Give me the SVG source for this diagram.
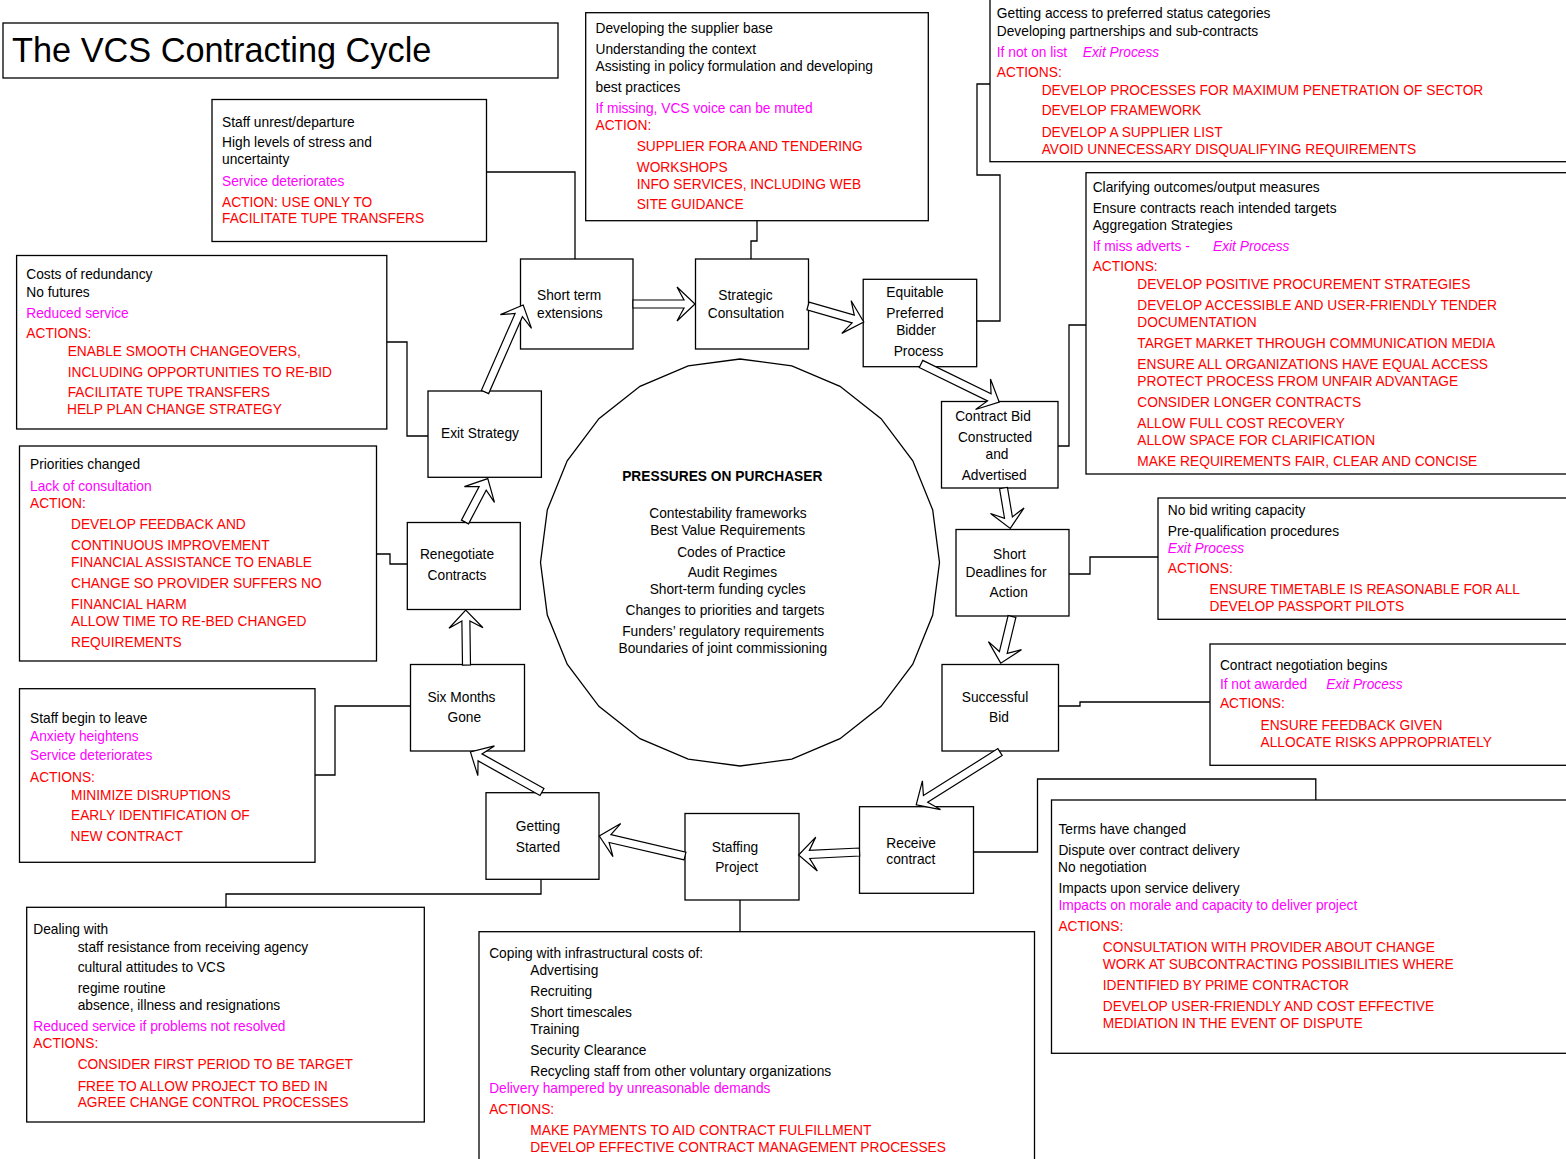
<svg xmlns="http://www.w3.org/2000/svg" width="1566" height="1159" viewBox="0 0 1566 1159">
  <style>
    .box { fill: #fff; stroke: #000; stroke-width: 1.3; }
    .wire { fill: none; stroke: #000; stroke-width: 1.3; }
    .arrow { fill: #fff; stroke: #000; stroke-width: 1.2; stroke-linejoin: miter; }
    text { font-family: "Liberation Sans", Arial, sans-serif; font-size: 13.75px; fill: #000; }
    .c { text-anchor: middle; }
    .m { fill: #ff00ff; }
    .r { fill: #ff0000; }
    .i { font-style: italic; }
    .b { font-weight: bold; }
    .title { font-size: 34.3px; }
  </style>

  <rect width="1566" height="1159" fill="#fff"/>

  <!-- Connectors from the side notes to the cycle stages -->
  <g id="connectors">
    <path class="wire" d="M757,220.7 V241 H751 V259"/>
    <path class="wire" d="M486.5,172 H575 V259"/>
    <path class="wire" d="M976.8,321 H1000 V175 H977 V84 H990"/>
    <path class="wire" d="M386.8,342 H407 V436 H428"/>
    <path class="wire" d="M376.7,554 H390 V564 H407.3"/>
    <path class="wire" d="M315,775 H335 V706 H410.5"/>
    <path class="wire" d="M541,879.3 V894 H226 V907.3"/>
    <path class="wire" d="M740,900 V931.7"/>
    <path class="wire" d="M973.5,852 H1037.5 V779 H1315.8 V800"/>
    <path class="wire" d="M1058.5,706 H1080 V702 H1210"/>
    <path class="wire" d="M1069,574 H1090 V557 H1158"/>
    <path class="wire" d="M1058,446 H1069 V325 H1086"/>
  </g>

  <!-- Title -->
  <g id="title">
    <rect class="box" x="3" y="23" width="555" height="55"/>
    <text class="title" x="12" y="62">The VCS Contracting Cycle</text>
  </g>

  <!-- Central pressures -->
  <g id="pressures">
    <polygon class="box" points="939.5,562.5 932.7,615.1 912.8,664.2 881.1,706.3 840,738.7 791.8,759.1 740,766 688.2,759.1 640,738.7 598.9,706.3 567.2,664.2 547.3,615.1 540.5,562.5 547.3,509.9 567.2,460.8 598.9,418.7 640,386.3 688.2,365.9 740,359 791.8,365.9 840,386.3 881.1,418.7 912.8,460.8 932.7,509.9"/>
    <text class="c b" x="722.3" y="480.7">PRESSURES ON PURCHASER</text>
    <text class="c" x="728" y="518.3">Contestability frameworks</text>
    <text class="c" x="727.6" y="535.3">Best Value Requirements</text>
    <text class="c" x="731.4" y="556.7">Codes of Practice</text>
    <text class="c" x="732.4" y="577.3">Audit Regimes</text>
    <text class="c" x="727.6" y="594.3">Short-term funding cycles</text>
    <text class="c" x="724.9" y="615.3">Changes to priorities and targets</text>
    <text class="c" x="723.2" y="636">Funders’ regulatory requirements</text>
    <text class="c" x="722.8" y="653.3">Boundaries of joint commissioning</text>
  </g>

  <!-- Cycle stages -->
  <g id="short-term">
    <rect class="box" x="520.5" y="259" width="112.5" height="90"/>
    <text x="537" y="300">Short term</text>
    <text x="537" y="317.7">extensions</text>
  </g>
  <g id="strategic">
    <rect class="box" x="695.5" y="259" width="113" height="90"/>
    <text class="c" x="745.5" y="300">Strategic</text>
    <text class="c" x="746" y="317.7">Consultation</text>
  </g>
  <g id="equitable">
    <rect class="box" x="863.2" y="279.3" width="113.5" height="87.4"/>
    <text class="c" x="915" y="296.7">Equitable</text>
    <text class="c" x="915" y="318.3">Preferred</text>
    <text class="c" x="916" y="335">Bidder</text>
    <text class="c" x="918.5" y="356">Process</text>
  </g>
  <g id="contract-bid">
    <rect class="box" x="941.5" y="401.5" width="116.5" height="86.5"/>
    <text class="c" x="993" y="420.7">Contract Bid</text>
    <text class="c" x="995" y="441.7">Constructed</text>
    <text class="c" x="997" y="459.3">and</text>
    <text class="c" x="994.2" y="480">Advertised</text>
  </g>
  <g id="short-deadlines">
    <rect class="box" x="956" y="529.5" width="113" height="86.5"/>
    <text class="c" x="1009.5" y="559">Short</text>
    <text class="c" x="1006" y="576.7">Deadlines for</text>
    <text class="c" x="1008.7" y="597.3">Action</text>
  </g>
  <g id="successful-bid">
    <rect class="box" x="942" y="664.5" width="116.5" height="86.5"/>
    <text class="c" x="995" y="701.7">Successful</text>
    <text class="c" x="999" y="722.3">Bid</text>
  </g>
  <g id="receive-contract">
    <rect class="box" x="859.5" y="806.7" width="114" height="86.6"/>
    <text class="c" x="911.2" y="847.7">Receive</text>
    <text class="c" x="910.8" y="864.3">contract</text>
  </g>
  <g id="staffing">
    <rect class="box" x="685" y="813.5" width="114" height="86.5"/>
    <text class="c" x="735" y="852.3">Staffing</text>
    <text class="c" x="736.6" y="871.7">Project</text>
  </g>
  <g id="getting-started">
    <rect class="box" x="486" y="792.7" width="113" height="86.6"/>
    <text class="c" x="538" y="830.7">Getting</text>
    <text class="c" x="538" y="851.7">Started</text>
  </g>
  <g id="six-months">
    <rect class="box" x="410.5" y="664.5" width="114" height="86.5"/>
    <text class="c" x="461.4" y="701.7">Six Months</text>
    <text class="c" x="464.3" y="722.3">Gone</text>
  </g>
  <g id="renegotiate">
    <rect class="box" x="407.3" y="522.5" width="113" height="87"/>
    <text class="c" x="457" y="559.3">Renegotiate</text>
    <text class="c" x="457" y="580">Contracts</text>
  </g>
  <g id="exit-strategy">
    <rect class="box" x="428" y="391" width="113.4" height="86.3"/>
    <text x="441" y="438.3">Exit Strategy</text>
  </g>

  <!-- Side notes -->
  <g id="supplier-base">
    <rect class="box" x="585.7" y="12.7" width="342.6" height="208"/>
    <text x="595.5" y="33.3">Developing the supplier base</text>
    <text x="595.5" y="54">Understanding the context</text>
    <text x="595.5" y="71">Assisting in policy formulation and developing</text>
    <text x="595.5" y="91.7">best practices</text>
    <text class="m" x="595.5" y="112.7">If missing, VCS voice can be muted</text>
    <text class="r" x="595.5" y="130">ACTION:</text>
    <text class="r" x="636.7" y="151">SUPPLIER FORA AND TENDERING</text>
    <text class="r" x="636.7" y="171.7">WORKSHOPS</text>
    <text class="r" x="636.7" y="188.7">INFO SERVICES, INCLUDING WEB</text>
    <text class="r" x="636.7" y="209.3">SITE GUIDANCE</text>
  </g>

  <g id="preferred-status">
    <rect class="box" x="990" y="-2" width="580" height="163.7"/>
    <text x="996.8" y="18.3">Getting access to preferred status categories</text>
    <text x="996.8" y="36">Developing partnerships and sub-contracts</text>
    <text class="m" x="996.8" y="57.3">If not on list</text>
    <text class="m i" x="1082.8" y="57.3">Exit Process</text>
    <text class="r" x="996.8" y="76.7">ACTIONS:</text>
    <text class="r" x="1041.7" y="95">DEVELOP PROCESSES FOR MAXIMUM PENETRATION OF SECTOR</text>
    <text class="r" x="1041.7" y="115">DEVELOP FRAMEWORK</text>
    <text class="r" x="1041.7" y="136.7">DEVELOP A SUPPLIER LIST</text>
    <text class="r" x="1041.7" y="154">AVOID UNNECESSARY DISQUALIFYING REQUIREMENTS</text>
  </g>

  <g id="staff-unrest">
    <rect class="box" x="212" y="99.5" width="274.5" height="142"/>
    <text x="222" y="126.7">Staff unrest/departure</text>
    <text x="222" y="147.3">High levels of stress and</text>
    <text x="222" y="164">uncertainty</text>
    <text class="m" x="222" y="185.7">Service deteriorates</text>
    <text class="r" x="222" y="206.7">ACTION: USE ONLY TO</text>
    <text class="r" x="222" y="223.3">FACILITATE TUPE TRANSFERS</text>
  </g>

  <g id="redundancy">
    <rect class="box" x="16.6" y="255.5" width="370.2" height="173.5"/>
    <text x="26.3" y="278.7">Costs of redundancy</text>
    <text x="26.3" y="296.7">No futures</text>
    <text class="m" x="26.3" y="317.7">Reduced service</text>
    <text class="r" x="26.3" y="337.7">ACTIONS:</text>
    <text class="r" x="67.7" y="355.7">ENABLE SMOOTH CHANGEOVERS,</text>
    <text class="r" x="67.7" y="376.7">INCLUDING OPPORTUNITIES TO RE-BID</text>
    <text class="r" x="67.7" y="396.7">FACILITATE TUPE TRANSFERS</text>
    <text class="r" x="67" y="414.3">HELP PLAN CHANGE STRATEGY</text>
  </g>

  <g id="outcomes">
    <rect class="box" x="1086" y="172.7" width="484" height="301.3"/>
    <text x="1092.7" y="192.3">Clarifying outcomes/output measures</text>
    <text x="1092.7" y="213.3">Ensure contracts reach intended targets</text>
    <text x="1092.7" y="230.3">Aggregation Strategies</text>
    <text class="m" x="1092.7" y="251.3">If miss adverts -</text>
    <text class="m i" x="1213" y="251.3">Exit Process</text>
    <text class="r" x="1092.7" y="271.3">ACTIONS:</text>
    <text class="r" x="1137.3" y="289.3">DEVELOP POSITIVE PROCUREMENT STRATEGIES</text>
    <text class="r" x="1137.3" y="310.3">DEVELOP ACCESSIBLE AND USER-FRIENDLY TENDER</text>
    <text class="r" x="1137.3" y="327.3">DOCUMENTATION</text>
    <text class="r" x="1137.3" y="348.3">TARGET MARKET THROUGH COMMUNICATION MEDIA</text>
    <text class="r" x="1137.3" y="369.3">ENSURE ALL ORGANIZATIONS HAVE EQUAL ACCESS</text>
    <text class="r" x="1137.3" y="386.3">PROTECT PROCESS FROM UNFAIR ADVANTAGE</text>
    <text class="r" x="1137.3" y="407.3">CONSIDER LONGER CONTRACTS</text>
    <text class="r" x="1137.3" y="428.3">ALLOW FULL COST RECOVERY</text>
    <text class="r" x="1137.3" y="445.3">ALLOW SPACE FOR CLARIFICATION</text>
    <text class="r" x="1137.3" y="466.3">MAKE REQUIREMENTS FAIR, CLEAR AND CONCISE</text>
  </g>

  <g id="priorities">
    <rect class="box" x="19.5" y="446" width="357" height="215"/>
    <text x="30" y="469.3">Priorities changed</text>
    <text class="m" x="30" y="490.7">Lack of consultation</text>
    <text class="r" x="30" y="507.7">ACTION:</text>
    <text class="r" x="71" y="529">DEVELOP FEEDBACK AND</text>
    <text class="r" x="71" y="550">CONTINUOUS IMPROVEMENT</text>
    <text class="r" x="71" y="566.7">FINANCIAL ASSISTANCE TO ENABLE</text>
    <text class="r" x="71" y="587.7">CHANGE SO PROVIDER SUFFERS NO</text>
    <text class="r" x="71" y="609">FINANCIAL HARM</text>
    <text class="r" x="71" y="626">ALLOW TIME TO RE-BED CHANGED</text>
    <text class="r" x="71" y="646.7">REQUIREMENTS</text>
  </g>

  <g id="bid-capacity">
    <rect class="box" x="1158" y="498" width="412" height="121.3"/>
    <text x="1167.8" y="515">No bid writing capacity</text>
    <text x="1167.8" y="535.7">Pre-qualification procedures</text>
    <text class="m i" x="1167.8" y="552.7">Exit Process</text>
    <text class="r" x="1167.8" y="573.3">ACTIONS:</text>
    <text class="r" x="1209.5" y="594.3">ENSURE TIMETABLE IS REASONABLE FOR ALL</text>
    <text class="r" x="1209.5" y="611.3">DEVELOP PASSPORT PILOTS</text>
  </g>

  <g id="negotiation">
    <rect class="box" x="1210" y="644" width="360" height="121.3"/>
    <text x="1219.9" y="670.3">Contract negotiation begins</text>
    <text class="m" x="1219.9" y="688.7">If not awarded</text>
    <text class="m i" x="1326.2" y="688.7">Exit Process</text>
    <text class="r" x="1219.9" y="708.3">ACTIONS:</text>
    <text class="r" x="1260.5" y="729.7">ENSURE FEEDBACK GIVEN</text>
    <text class="r" x="1260.5" y="747.3">ALLOCATE RISKS APPROPRIATELY</text>
  </g>

  <g id="staff-leave">
    <rect class="box" x="19.5" y="688.7" width="295.5" height="173.6"/>
    <text x="30" y="722.7">Staff begin to leave</text>
    <text class="m" x="30" y="741">Anxiety heightens</text>
    <text class="m" x="30" y="760.3">Service deteriorates</text>
    <text class="r" x="30" y="781.7">ACTIONS:</text>
    <text class="r" x="71" y="800">MINIMIZE DISRUPTIONS</text>
    <text class="r" x="71" y="820">EARLY IDENTIFICATION OF</text>
    <text class="r" x="70.5" y="841">NEW CONTRACT</text>
  </g>

  <g id="terms-changed">
    <rect class="box" x="1051.5" y="800" width="520" height="253.3"/>
    <text x="1058.4" y="834">Terms have changed</text>
    <text x="1058.4" y="855">Dispute over contract delivery</text>
    <text x="1058" y="871.7">No negotiation</text>
    <text x="1058.4" y="892.7">Impacts upon service delivery</text>
    <text class="m" x="1058.4" y="910">Impacts on morale and capacity to deliver project</text>
    <text class="r" x="1058.4" y="930.7">ACTIONS:</text>
    <text class="r" x="1102.8" y="951.7">CONSULTATION WITH PROVIDER ABOUT CHANGE</text>
    <text class="r" x="1102.8" y="968.7">WORK AT SUBCONTRACTING POSSIBILITIES WHERE</text>
    <text class="r" x="1102.8" y="989.7">IDENTIFIED BY PRIME CONTRACTOR</text>
    <text class="r" x="1102.8" y="1010.7">DEVELOP USER-FRIENDLY AND COST EFFECTIVE</text>
    <text class="r" x="1102.8" y="1027.7">MEDIATION IN THE EVENT OF DISPUTE</text>
  </g>

  <g id="dealing-with">
    <rect class="box" x="26.7" y="907.3" width="397.6" height="214.7"/>
    <text x="33.3" y="934.3">Dealing with</text>
    <text x="77.7" y="951.7">staff resistance from receiving agency</text>
    <text x="77.7" y="972.3">cultural attitudes to VCS</text>
    <text x="77.7" y="993.3">regime routine</text>
    <text x="77.7" y="1010">absence, illness and resignations</text>
    <text class="m" x="33.3" y="1031">Reduced service if problems not resolved</text>
    <text class="r" x="33.3" y="1048.3">ACTIONS:</text>
    <text class="r" x="77.7" y="1069.3">CONSIDER FIRST PERIOD TO BE TARGET</text>
    <text class="r" x="77.7" y="1090.7">FREE TO ALLOW PROJECT TO BED IN</text>
    <text class="r" x="77.7" y="1107.3">AGREE CHANGE CONTROL PROCESSES</text>
  </g>

  <g id="infrastructure-costs">
    <rect class="box" x="479" y="931.7" width="555.5" height="235"/>
    <text x="489.2" y="958.3">Coping with infrastructural costs of:</text>
    <text x="530.3" y="975.3">Advertising</text>
    <text x="530.3" y="996.3">Recruiting</text>
    <text x="530.3" y="1017.3">Short timescales</text>
    <text x="530.3" y="1034">Training</text>
    <text x="530.3" y="1055.3">Security Clearance</text>
    <text x="530.3" y="1076">Recycling staff from other voluntary organizations</text>
    <text class="m" x="489.2" y="1093.3">Delivery hampered by unreasonable demands</text>
    <text class="r" x="489.2" y="1113.7">ACTIONS:</text>
    <text class="r" x="530.3" y="1134.7">MAKE PAYMENTS TO AID CONTRACT FULFILLMENT</text>
    <text class="r" x="530.3" y="1151.7">DEVELOP EFFECTIVE CONTRACT MANAGEMENT PROCESSES</text>
  </g>

  <!-- Hollow block arrows around the cycle -->
  <g id="cycle-arrows">
    <path class="arrow" transform="translate(485,392) rotate(-66.3)" d="M0,-4 H84 L77,-17 L95,0 L77,17 L84,4 H0 Z"/>
    <path class="arrow" transform="translate(633,304)" d="M0,-4 H51 L44,-17 L62,0 L44,17 L51,4 H0 Z"/>
    <path class="arrow" transform="translate(808,306) rotate(16)" d="M0,-4 H47 L40,-17 L58,0 L40,17 L47,4 H0 Z"/>
    <path class="arrow" transform="translate(921,364) rotate(26)" d="M0,-4 H76 L69,-17 L87,0 L69,17 L76,4 H0 Z"/>
    <path class="arrow" transform="translate(1003.5,488) rotate(80.5)" d="M0,-4 H30 L23,-17 L41,0 L23,17 L30,4 H0 Z"/>
    <path class="arrow" transform="translate(1012,616.5) rotate(103.6)" d="M0,-4 H37 L30,-17 L48,0 L30,17 L37,4 H0 Z"/>
    <path class="arrow" transform="translate(1000,752) rotate(147.8)" d="M0,-4 H88 L81,-17 L99,0 L81,17 L88,4 H0 Z"/>
    <path class="arrow" transform="translate(859.5,852) rotate(177.2)" d="M0,-4 H50 L43,-17 L61,0 L43,17 L50,4 H0 Z"/>
    <path class="arrow" transform="translate(685,856) rotate(193.1)" d="M0,-4 H77 L70,-17 L88,0 L70,17 L77,4 H0 Z"/>
    <path class="arrow" transform="translate(542,792) rotate(209.2)" d="M0,-4 H71 L64,-17 L82,0 L64,17 L71,4 H0 Z"/>
    <path class="arrow" transform="translate(466.5,665) rotate(-90.8)" d="M0,-4 H44 L37,-17 L55,0 L37,17 L44,4 H0 Z"/>
    <path class="arrow" transform="translate(465,522) rotate(-62.3)" d="M0,-4 H38 L31,-17 L49,0 L31,17 L38,4 H0 Z"/>
  </g>
</svg>
